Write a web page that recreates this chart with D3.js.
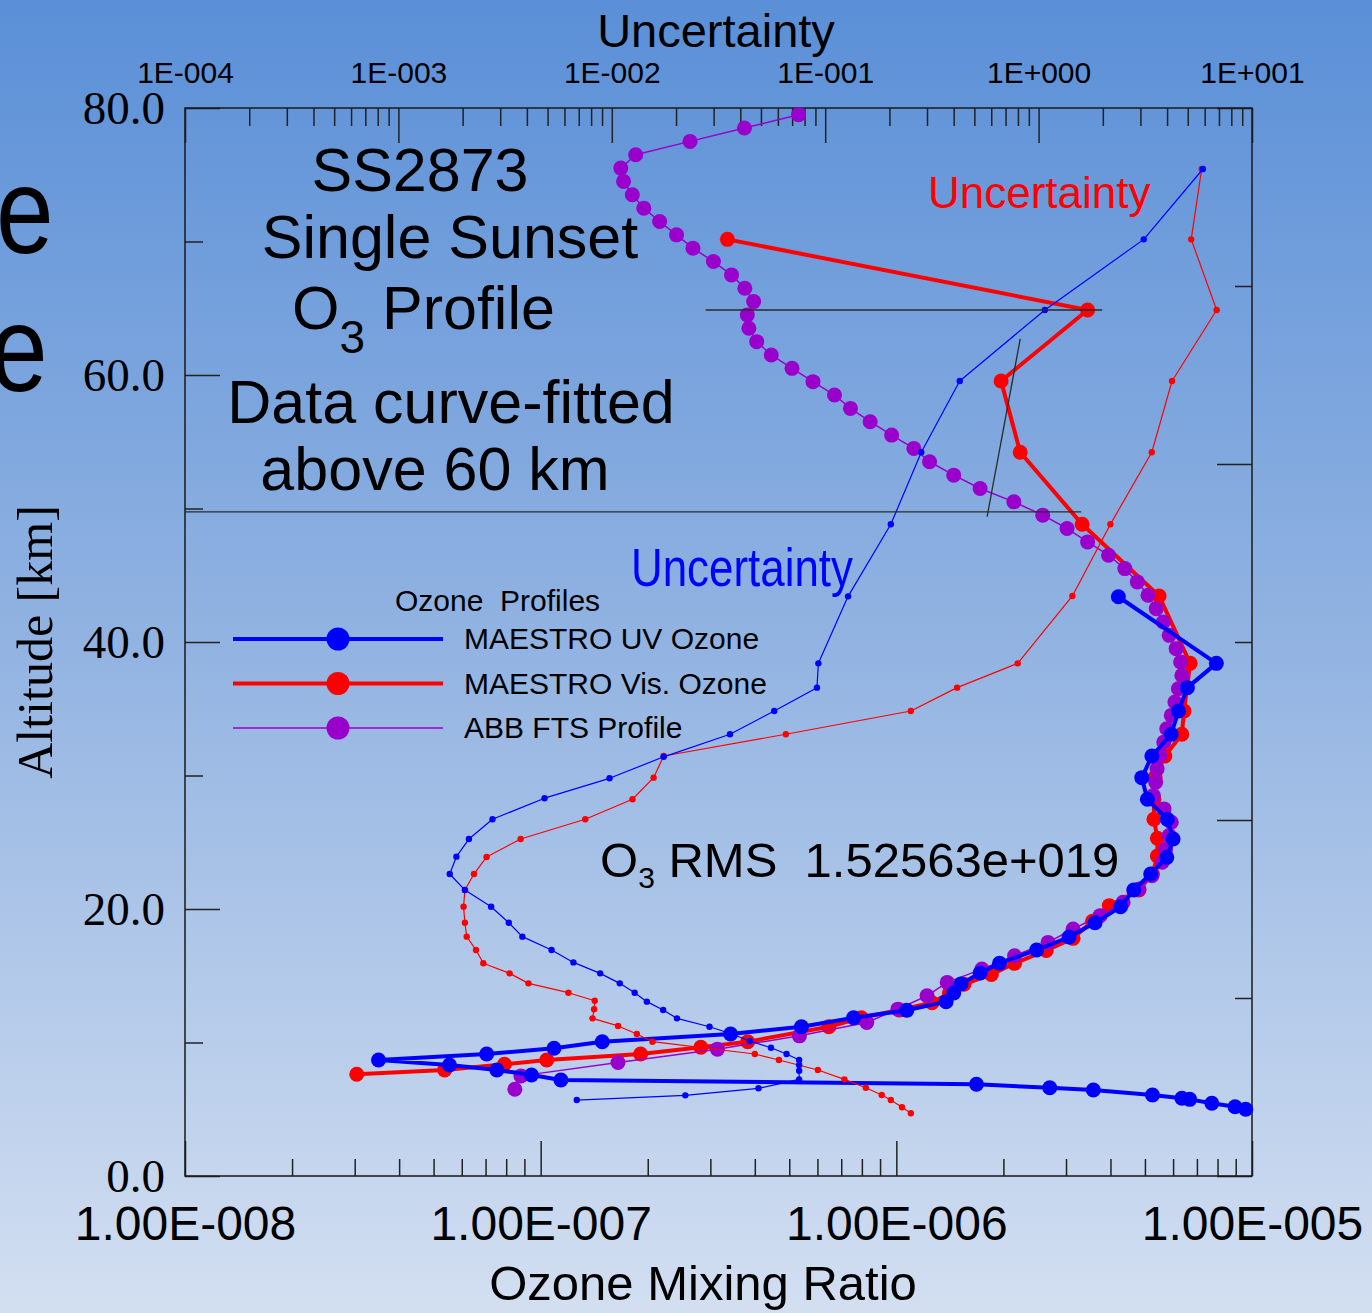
<!DOCTYPE html>
<html>
<head>
<meta charset="utf-8">
<script src="https://cdn.jsdelivr.net/npm/d3@7"></script>
<style>
    body { margin: 0; }
    svg { display: block; }
    text { font-family: "Liberation Sans", Arial, sans-serif; fill: #000; }
    .serif { font-family: "Liberation Serif", "Times New Roman", serif; }
    .tick line { stroke: #222; stroke-width: 1.5; }
</style>
</head>
<body>
<div id="chart"></div>
<script>
// ABB FTS profile (altitude km, O3 mixing ratio)
var ftsAlt = [79.5, 78.5, 77.5, 76.5, 75.5, 74.5, 73.5, 72.5, 71.5, 70.5,
    69.5, 68.5, 67.5, 66.5, 65.5, 64.5, 63.5, 62.5, 61.5, 60.5,
    59.5, 58.5, 57.5, 56.5, 55.5, 54.5, 53.5, 52.5, 51.5, 50.5,
    49.5, 48.5, 47.5, 46.5, 45.5, 44.5, 43.5, 42.5, 41.5, 40.5,
    39.5, 38.5, 37.5, 36.5, 35.5, 34.5, 33.5, 32.5, 31.5, 30.5,
    29.5, 28.5, 27.5, 26.5, 25.5, 24.5, 23.5, 22.5, 21.5, 20.5,
    19.5, 18.5, 17.5, 16.5, 15.5, 14.5, 13.5, 12.5, 11.5, 10.5,
    9.5, 8.5, 7.5, 6.5];
var ftsO3 = [5.31e-7, 3.74e-7, 2.63e-7, 1.85e-7, 1.68e-7, 1.71e-7, 1.81e-7, 1.95e-7, 2.16e-7, 2.41e-7,
    2.68e-7, 3.06e-7, 3.44e-7, 3.75e-7, 3.97e-7, 3.81e-7, 3.85e-7, 4.05e-7, 4.45e-7, 5.09e-7,
    5.83e-7, 6.70e-7, 7.43e-7, 8.44e-7, 9.70e-7, 1.12e-6, 1.24e-6, 1.45e-6, 1.72e-6, 2.14e-6,
    2.58e-6, 3.02e-6, 3.45e-6, 3.95e-6, 4.39e-6, 4.76e-6, 5.10e-6, 5.38e-6, 5.63e-6, 5.85e-6,
    6.12e-6, 6.30e-6, 6.35e-6, 6.21e-6, 6.07e-6, 5.93e-6, 5.76e-6, 5.65e-6, 5.51e-6, 5.41e-6,
    5.36e-6, 5.28e-6, 5.66e-6, 5.93e-6, 5.85e-6, 5.72e-6, 5.59e-6, 5.23e-6, 4.81e-6, 4.34e-6,
    3.74e-6, 3.14e-6, 2.67e-6, 2.15e-6, 1.74e-6, 1.39e-6, 1.22e-6, 1.01e-6, 8.26e-7, 5.34e-7,
    3.14e-7, 1.65e-7, 8.80e-8, 8.46e-8];

// MAESTRO UV ozone
var uvAlt = [43.39, 38.40, 36.58, 34.83, 33.09, 31.46, 29.84, 28.22, 26.72, 25.24,
    23.87, 22.62, 21.42, 20.17, 18.97, 17.90, 16.93, 15.94, 15.21, 14.38,
    13.71, 13.06, 12.41, 11.85, 11.18, 10.64, 10.06, 9.57, 9.14, 8.69,
    8.31, 7.94, 7.57, 7.19, 6.87, 6.61, 6.44, 6.07, 5.82, 5.74,
    5.45, 5.19, 5.00];
var uvO3 = [4.21e-6, 7.94e-6, 6.58e-6, 6.21e-6, 5.93e-6, 5.23e-6, 4.90e-6, 5.08e-6, 5.78e-6, 6.00e-6,
    5.76e-6, 5.19e-6, 4.65e-6, 4.27e-6, 3.62e-6, 3.06e-6, 2.48e-6, 1.95e-6, 1.72e-6, 1.52e-6,
    1.45e-6, 1.38e-6, 1.07e-6, 7.58e-7, 5.41e-7, 3.42e-7, 1.49e-7, 1.09e-7, 7.05e-8, 3.50e-8,
    5.54e-8, 7.53e-8, 9.42e-8, 1.14e-7, 1.68e-6, 2.70e-6, 3.58e-6, 5.25e-6, 6.35e-6, 6.68e-6,
    7.71e-6, 8.96e-6, 9.60e-6];

// MAESTRO Vis ozone
var visAlt = [70.16, 64.87, 59.55, 54.21, 48.82, 43.45, 38.40, 34.83, 33.09, 31.46,
    29.84, 28.22, 26.72, 25.30, 23.97, 22.62, 21.42, 20.25, 19.08, 17.80,
    16.90, 15.93, 15.10, 14.36, 13.70, 12.98, 12.43, 11.85, 11.18, 10.06,
    9.64, 9.14, 8.69, 8.37, 7.94, 7.62];
var visO3 = [3.35e-7, 3.45e-6, 1.97e-6, 2.23e-6, 3.33e-6, 5.48e-6, 6.70e-6, 6.44e-6, 6.35e-6, 5.69e-6,
    5.34e-6, 5.30e-6, 5.30e-6, 5.42e-6, 5.42e-6, 5.25e-6, 4.81e-6, 3.97e-6, 3.56e-6, 3.14e-6,
    2.64e-6, 2.15e-6, 1.85e-6, 1.55e-6, 1.41e-6, 1.26e-6, 1.02e-6, 7.97e-7, 6.46e-7, 3.82e-7,
    2.82e-7, 1.91e-7, 1.04e-7, 7.91e-8, 5.37e-8, 3.04e-8];

// uncertainties (top axis)
var uvUncAlt = [75.43, 70.16, 64.87, 59.55, 54.21, 48.82, 43.42, 38.40, 36.58, 34.83,
    33.09, 31.40, 29.79, 28.30, 26.72, 25.24, 23.92, 22.62, 21.42, 20.17,
    18.97, 17.93, 16.93, 16.00, 15.18, 14.43, 13.73, 13.06, 12.43, 11.81,
    11.18, 10.64, 10.11, 9.61, 9.14, 8.69, 8.31, 7.89, 7.24, 6.57,
    6.04, 5.69];
var uvUnc = [5.89, 3.11, 1.07, 0.427, 0.282, 0.203, 0.128, 0.0929, 0.0915, 0.0577,
    0.0358, 0.0175, 0.00976, 0.00484, 0.00276, 0.00214, 0.00187, 0.00174, 0.00205, 0.00272,
    0.00329, 0.00381, 0.00522, 0.00661, 0.00882, 0.0109, 0.0128, 0.0146, 0.0174, 0.0202,
    0.0287, 0.0365, 0.0443, 0.0557, 0.0659, 0.0755, 0.0755, 0.0755, 0.0755, 0.0487,
    0.0221, 0.00685];
var visUncAlt = [75.43, 70.16, 64.87, 59.55, 54.21, 48.82, 43.45, 38.40, 36.58, 34.83,
    33.09, 31.46, 29.84, 28.22, 26.72, 25.24, 23.90, 22.62, 21.42, 20.17,
    18.97, 17.93, 16.93, 15.94, 15.18, 14.43, 13.73, 13.13, 12.49, 11.81,
    11.24, 10.64, 10.06, 9.14, 8.69, 7.94, 7.24, 6.61, 6.07, 5.69,
    5.15, 4.70];
var visUnc = [5.81, 5.19, 6.83, 4.22, 3.39, 2.17, 1.44, 0.798, 0.415, 0.252,
    0.0654, 0.0175, 0.0157, 0.0125, 0.00751, 0.00374, 0.00259, 0.00226, 0.00205, 0.00202,
    0.00205, 0.00209, 0.00231, 0.00250, 0.00332, 0.00407, 0.00626, 0.00832, 0.00826, 0.00812,
    0.0107, 0.0131, 0.0155, 0.0468, 0.0607, 0.0924, 0.123, 0.155, 0.184, 0.203,
    0.229, 0.252];

// tick values
var bottomMajor = [1e-8, 1e-7, 1e-6, 1e-5];
var topMajor = [1e-4, 1e-3, 1e-2, 1e-1, 1e0, 1e1];
var altMajor = [0, 20, 40, 60, 80];
var altMinor = [10, 30, 50, 70];

// hand drawn guide lines [x1, alt1, x2, alt2]
var guideLines = [
    [2.91e-7, 64.87, 3.79e-6, 64.87],
    [1e-8, 49.74, 3.31e-6, 49.74],
    [2.23e-6, 62.7, 1.8e-6, 49.4]
];

var legendNames = ["MAESTRO UV Ozone", "MAESTRO Vis. Ozone", "ABB FTS Profile"];
var legendColors = ["#0000ff", "#ff0000", "#9a00cc"];

// ---------------------------------------------------------------
var W = 1372, H = 1313;
var margin = { top: 108, right: 120, bottom: 137, left: 185 };
var width = W - margin.left - margin.right,
    height = H - margin.top - margin.bottom;

var svg = d3.select("#chart").append("svg")
    .attr("width", W)
    .attr("height", H);

// background gradient
var grad = svg.append("defs").append("linearGradient")
    .attr("id", "bg")
    .attr("x1", 0).attr("y1", 0).attr("x2", 0).attr("y2", 1);
grad.append("stop").attr("offset", "0%").attr("stop-color", "#5a8fd7");
grad.append("stop").attr("offset", "50%").attr("stop-color", "#93b4e2");
grad.append("stop").attr("offset", "100%").attr("stop-color", "#d3dff1");
svg.append("rect").attr("width", W).attr("height", H).attr("fill", "url(#bg)");

var g = svg.append("g")
    .attr("transform", "translate(" + margin.left + "," + margin.top + ")");

// scales
var x = d3.scaleLog().domain([1e-8, 1e-5]).range([0, width]);
var xu = d3.scaleLog().domain([1e-4, 1e1]).range([0, width]);
var y = d3.scaleLinear().domain([0, 80]).range([height, 0]);
var yr = d3.scaleLinear().domain([0, 6]).range([height, 0]);

function minorTicks(scale, majors) {
    return scale.ticks().filter(function (d) {
        return majors.indexOf(d) < 0 && Math.abs(Math.log10(d) - Math.round(Math.log10(d))) > 1e-6;
    });
}
function noDomain(sel) { sel.select(".domain").remove(); }

// bottom axis
g.append("g")
    .attr("transform", "translate(0," + height + ")")
    .call(d3.axisBottom(x).tickValues(minorTicks(x, bottomMajor)).tickSize(-17).tickFormat(""))
    .call(noDomain);
g.append("g")
    .attr("class", "x axis")
    .attr("transform", "translate(0," + height + ")")
    .call(d3.axisBottom(x).tickValues(bottomMajor).tickSizeInner(-35).tickSizeOuter(0).tickPadding(30)
        .tickFormat(function (d) {
            var e = Math.round(Math.log10(d));
            return "1.00E" + (e < 0 ? "-" : "+") + String(Math.abs(e)).padStart(3, "0");
        }))
    .call(noDomain)
    .selectAll("text")
    .style("font-size", "48px")
    .style("font-family", "'Liberation Sans', Arial, sans-serif")
    .attr("fill", "#000");

// top axis (uncertainty)
g.append("g")
    .call(d3.axisTop(xu).tickValues(minorTicks(xu, topMajor)).tickSize(-18).tickFormat(""))
    .call(noDomain);
g.append("g")
    .call(d3.axisTop(xu).tickValues(topMajor).tickSizeInner(-35).tickSizeOuter(0).tickPadding(25)
        .tickFormat(function (d) {
            var e = Math.round(Math.log10(d));
            return "1E" + (e < 0 ? "-" : "+") + String(Math.abs(e)).padStart(3, "0");
        }))
    .call(noDomain)
    .selectAll("text")
    .style("font-size", "30px")
    .style("font-family", "'Liberation Sans', Arial, sans-serif")
    .attr("fill", "#000");

// left axis
g.append("g")
    .call(d3.axisLeft(y).tickValues(altMinor).tickSize(-18).tickFormat(""))
    .call(noDomain);
g.append("g")
    .call(d3.axisLeft(y).tickValues(altMajor).tickSizeInner(-35).tickSizeOuter(0).tickPadding(20)
        .tickFormat(d3.format(".1f")))
    .call(noDomain)
    .selectAll("text")
    .attr("class", "serif")
    .style("font-size", "47px")
    .style("font-family", "'Liberation Serif', 'Times New Roman', serif")
    .attr("fill", "#000");

// right axis, ticks only
g.append("g")
    .attr("transform", "translate(" + width + ",0)")
    .call(d3.axisRight(yr).tickValues([0, 2, 4, 6]).tickSize(-35).tickFormat(""))
    .call(noDomain);
g.append("g")
    .attr("transform", "translate(" + width + ",0)")
    .call(d3.axisRight(yr).tickValues([1, 3, 5]).tickSize(-17).tickFormat(""))
    .call(noDomain);

// frame
g.append("rect")
    .attr("width", width).attr("height", height)
    .attr("fill", "none")
    .attr("stroke", "#1a1a1a")
    .attr("stroke-width", 1.5);

// axis titles
svg.append("text")
    .attr("x", 703)
    .attr("y", 1300)
    .attr("text-anchor", "middle")
    .style("font-size", "49px")
    .text("Ozone Mixing Ratio");

svg.append("text")
    .attr("x", 716)
    .attr("y", 47)
    .attr("text-anchor", "middle")
    .style("font-size", "47px")
    .text("Uncertainty");

svg.append("text")
    .attr("class", "serif")
    .attr("transform", "translate(52,642) rotate(-90)")
    .attr("text-anchor", "middle")
    .style("font-size", "50px")
    .text("Altitude [km]");

// stray glyphs at the left edge
svg.append("text")
    .attr("transform", "translate(-4,253) scale(0.85,1)")
    .style("font-size", "122px")
    .text("e");
svg.append("text")
    .attr("transform", "translate(-10,391) scale(0.85,1)")
    .style("font-size", "122px")
    .text("e");

// series
function pts(alt, val) {
    return alt.map(function (a, i) { return { a: a, v: val[i] }; });
}

function drawProfile(data, sx, color, lw, r) {
    var line = d3.line()
        .x(function (d) { return sx(d.v); })
        .y(function (d) { return y(d.a); });
    g.append("path")
        .datum(data)
        .attr("fill", "none")
        .attr("stroke", color)
        .attr("stroke-width", lw)
        .attr("stroke-linejoin", "round")
        .attr("d", line);
    g.append("g").selectAll("circle")
        .data(data)
        .enter()
        .append("circle")
        .attr("cx", function (d) { return sx(d.v); })
        .attr("cy", function (d) { return y(d.a); })
        .attr("r", r)
        .attr("fill", color);
}

drawProfile(pts(visAlt, visO3), x, "#ff0000", 4, 7.5);
drawProfile(pts(ftsAlt, ftsO3), x, "#9a00cc", 1.5, 7.5);
drawProfile(pts(uvAlt, uvO3), x, "#0000ff", 4, 7.5);
drawProfile(pts(visUncAlt, visUnc), xu, "#ff0000", 1.2, 3.2);
drawProfile(pts(uvUncAlt, uvUnc), xu, "#0000ff", 1.2, 3.2);

// guide lines
g.selectAll(".guide")
    .data(guideLines)
    .enter()
    .append("line")
    .attr("class", "guide")
    .attr("x1", function (d) { return x(d[0]); })
    .attr("y1", function (d) { return y(d[1]); })
    .attr("x2", function (d) { return x(d[2]); })
    .attr("y2", function (d) { return y(d[3]); })
    .attr("stroke", "#2a2a2a")
    .attr("stroke-width", 1.3);

// annotation text
var big = [
    { t: "SS2873", x: 420, y: 191 },
    { t: "Single Sunset", x: 450, y: 258 },
    { t: "Data curve-fitted", x: 451, y: 423 },
    { t: "above 60 km", x: 435, y: 490 }
];
svg.selectAll(".big")
    .data(big)
    .enter()
    .append("text")
    .attr("class", "big")
    .attr("x", function (d) { return d.x; })
    .attr("y", function (d) { return d.y; })
    .attr("text-anchor", "middle")
    .style("font-size", "61px")
    .text(function (d) { return d.t; });

var o3 = svg.append("text")
    .attr("x", 292)
    .attr("y", 329)
    .style("font-size", "61px")
    .style("white-space", "pre");
o3.append("tspan").text("O");
o3.append("tspan").attr("dy", 24).style("font-size", "46px").text("3");
o3.append("tspan").attr("dy", -24).text(" Profile");

var rms = svg.append("text")
    .attr("x", 600)
    .attr("y", 877)
    .style("font-size", "49px")
    .style("white-space", "pre");
rms.append("tspan").text("O");
rms.append("tspan").attr("dy", 11).style("font-size", "30px").text("3");
rms.append("tspan").attr("dy", -11).text(" RMS  1.52563e+019");

svg.append("text")
    .attr("x", 928)
    .attr("y", 208)
    .style("fill", "#ff0000")
    .style("font-size", "44px")
    .text("Uncertainty");

svg.append("text")
    .attr("x", 631)
    .attr("y", 586)
    .style("fill", "#0000ff")
    .style("font-size", "53px")
    .attr("textLength", 222)
    .attr("lengthAdjust", "spacingAndGlyphs")
    .text("Uncertainty");

// legend
svg.append("text")
    .attr("x", 395)
    .attr("y", 611)
    .style("font-size", "30px")
    .style("white-space", "pre")
    .text("Ozone  Profiles");

var legend = svg.selectAll(".legend")
    .data(legendNames)
    .enter()
    .append("g")
    .attr("class", "legend")
    .attr("transform", function (d, i) { return "translate(0," + (639 + i * 44.5) + ")"; });

legend.append("line")
    .attr("x1", 233).attr("x2", 443)
    .attr("stroke", function (d, i) { return legendColors[i]; })
    .attr("stroke-width", function (d, i) { return i < 2 ? 4 : 1.5; });
legend.append("circle")
    .attr("cx", 338)
    .attr("r", 11.5)
    .attr("fill", function (d, i) { return legendColors[i]; });
legend.append("text")
    .attr("x", 464)
    .attr("y", 10)
    .style("font-size", "30px")
    .text(function (d) { return d; });
</script>
</body>
</html>
